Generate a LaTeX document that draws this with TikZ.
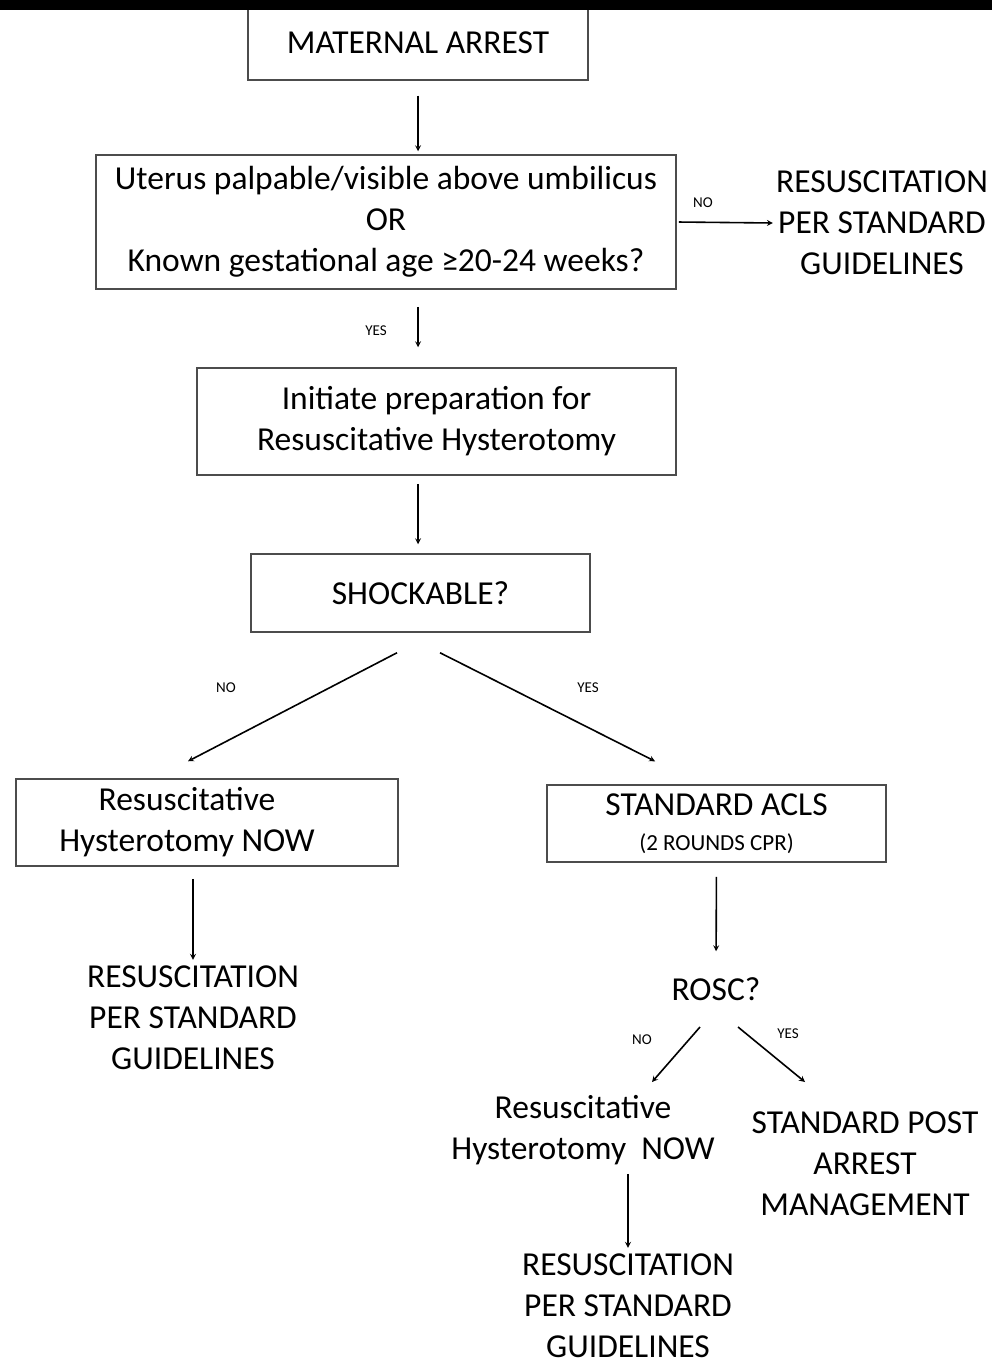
\documentclass[tikz,border=0pt]{standalone}
\usepackage{fontspec}
\setmainfont{Carlito}
\usetikzlibrary{arrows, positioning, calc}

\begin{document}
\begin{tikzpicture}[
    x=1pt, y=-1pt,
    box/.style={rectangle, draw=black!70, line width=1.5pt, align=center, inner sep=0pt, font=\fontsize{33.5}{41}\selectfont},
    plain/.style={align=center, inner sep=3pt, font=\fontsize{33.5}{41}\selectfont},
    tag/.style={inner sep=1pt, font=\fontsize{15}{18}\selectfont},
    arrow/.style={line width=1.6pt, ->, >=stealth}
]
    \useasboundingbox (0,0) rectangle (992,1370);

    % Boxes
    \node[box, minimum width=340pt, minimum height=75pt] (arrest) at (418,42.5) {MATERNAL ARREST};
    \node[box, minimum width=580pt, minimum height=134pt] (uterus) at (386,222) {Uterus palpable/visible above umbilicus\\OR\\Known gestational age ≥20-24 weeks?};
    \node[box, minimum width=479pt, minimum height=107pt] (prep) at (436.5,421.5) {Initiate preparation for\\Resuscitative Hysterotomy};
    \node[box, minimum width=339pt, minimum height=78pt] (shock) at (420.5,593) {SHOCKABLE?};
    \node[box, minimum width=382pt, minimum height=87pt] (hystnow) at (207,822.5) {Resuscitative\hspace*{40pt}\\Hysterotomy NOW\hspace*{40pt}};
    \node[box, minimum width=339pt, minimum height=77pt] (acls) at (716.5,823.5) {STANDARD ACLS\\[-6pt]{\fontsize{23}{26}\selectfont (2 ROUNDS CPR)}};

    % Plain text outcomes
    \node[plain] (rightres) at (882,223) {RESUSCITATION\\PER STANDARD\\GUIDELINES};
    \node[plain] (lres) at (193,1018) {RESUSCITATION\\PER STANDARD\\GUIDELINES};
    \node[plain] (rosc) at (716,989) {ROSC?};
    \node[plain] (rhyst) at (583,1130) {Resuscitative\\Hysterotomy\ \ NOW};
    \node[plain] (post) at (865,1164) {STANDARD POST\\ARREST\\MANAGEMENT};
    \node[plain] (rres) at (628,1306) {RESUSCITATION\\PER STANDARD\\GUIDELINES};

    % Labels
    \node[tag] (no1) at (703,203) {NO};
    \node[tag] (yes1) at (376,331) {YES};
    \node[tag] (no2) at (226,688) {NO};
    \node[tag] (yes2) at (588,688) {YES};
    \node[tag] (no3) at (642,1040) {NO};
    \node[tag] (yes3) at (788,1034) {YES};

    % Connections
    \draw[arrow, shorten <=15pt, shorten >=3pt] (arrest.south) -- (uterus.north -| arrest.south);
    \draw[arrow, shorten <=2pt] (uterus.east) -- (rightres.west);
    \draw[arrow, shorten <=17pt, shorten >=20pt] (uterus.south -| arrest.south) -- (prep.north -| arrest.south);
    \draw[arrow, shorten <=8pt, shorten >=9pt] (prep.south -| arrest.south) -- (shock.north -| arrest.south);
    \draw[arrow] ($(shock.south)+(-23.5,20)$) -- ($(hystnow.north)+(-19,-17)$);
    \draw[arrow] ($(shock.south)+(19.5,20)$) -- ($(acls.north)+(-61.5,-23)$);
    \draw[arrow, shorten <=12pt, shorten >=3pt] (hystnow.south -| lres.north) -- (lres.north);
    \draw[arrow, shorten <=14pt, shorten >=23pt] (acls.south) -- (rosc.north);
    \draw[arrow] ($(rosc)+(-16,38)$) -- ($(rosc)+(-64,93)$);
    \draw[arrow] ($(rosc)+(22,38)$) -- ($(rosc)+(89,93)$);
    \draw[arrow, shorten <=6pt, shorten >=3pt] (rhyst.south -| rres.north) -- (rres.north);

    % top edge band
    \fill[black] (0,0) rectangle (992,10);
\end{tikzpicture}
\end{document}
